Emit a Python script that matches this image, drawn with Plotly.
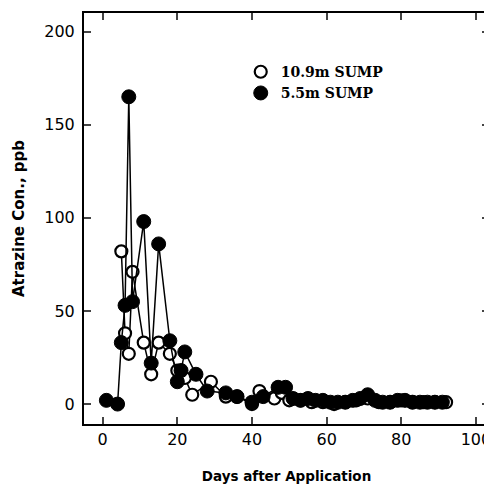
import plotly.graph_objects as go

# 10.9m sump (open circles)
days_109 = [5, 6, 7, 8, 11, 13, 15, 18, 20, 22, 24, 29, 33, 36, 40, 42, 46, 48, 50,
            53, 56, 59, 62, 65, 68, 71, 74, 77, 80, 83, 86, 89, 92]
conc_109 = [82, 38, 27, 71, 33, 16, 33, 27, 18, 14, 5, 12, 4, 4, 0, 7, 3, 6, 2,
            2, 1, 1, 0, 1, 2, 3, 1, 1, 2, 1, 1, 1, 1]

# 5.5m sump (filled circles)
days_55 = [1, 4, 5, 6, 7, 8, 11, 13, 15, 18, 20, 21, 22, 25, 28, 33, 36, 40, 43, 47, 49,
           51, 53, 55, 57, 59, 61, 63, 65, 67, 69, 71, 73, 75, 77, 79, 81, 83, 85, 87, 89, 91]
conc_55 = [2, 0, 33, 53, 165, 55, 98, 22, 86, 34, 12, 18, 28, 16, 7, 6, 4, 1, 4, 9, 9,
           3, 2, 3, 2, 2, 1, 1, 1, 2, 3, 5, 2, 1, 1, 2, 2, 1, 1, 1, 1, 1]

xticks = [0, 20, 40, 60, 80, 100]
yticks = [0, 50, 100, 150, 200]

open_marker = dict(symbol="circle", size=12, color="white", line=dict(color="black", width=2.2))
filled_marker = dict(symbol="circle", size=14, color="black", line=dict(color="black", width=1))

fig = go.Figure()
fig.add_trace(go.Scatter(x=days_109, y=conc_109, mode="lines+markers", showlegend=False,
                         line=dict(color="black", width=1.5), marker=open_marker))
fig.add_trace(go.Scatter(x=days_55, y=conc_55, mode="lines+markers", showlegend=False,
                         line=dict(color="black", width=1.5), marker=filled_marker))
# legend entries: markers only, like the original key
fig.add_trace(go.Scatter(x=[None], y=[None], mode="markers", name="10.9m SUMP", marker=open_marker))
fig.add_trace(go.Scatter(x=[None], y=[None], mode="markers", name="5.5m SUMP", marker=filled_marker))

axfont = dict(family="DejaVu Sans", size=16, color="black")
# page body adds ~8px margin, so the figure is sized to fit the window
fig.update_layout(
    width=484, height=476,
    margin=dict(l=76, r=1, t=5, b=59),
    paper_bgcolor="white", plot_bgcolor="white",
    showlegend=True,
    legend=dict(x=0.387, y=0.895, xanchor="left", yanchor="top",
                bgcolor="rgba(0,0,0,0)", tracegroupgap=0,
                font=dict(family="DejaVu Serif", size=14, color="black", weight="bold")),
    xaxis=dict(range=[-5, 103.5], tickvals=xticks, ticks="inside", ticklen=7, tickwidth=1.5,
               showline=True, linecolor="black", linewidth=2, mirror="ticks",
               showgrid=False, zeroline=False, tickfont=axfont,
               title=dict(text="Days after Application", standoff=24,
                          font=dict(family="DejaVu Sans", size=13.5, color="black", weight="bold"))),
    yaxis=dict(range=[-10.7, 210], tickvals=yticks, ticks="inside", ticklen=7, tickwidth=1.5,
               showline=True, linecolor="black", linewidth=2, mirror="ticks",
               showgrid=False, zeroline=False, tickfont=axfont, ticklabelstandoff=4,
               title=dict(text="Atrazine Con., ppb", standoff=16,
                          font=dict(family="DejaVu Sans", size=15, color="black", weight="bold"))),
)

fig.write_html("out.html")
